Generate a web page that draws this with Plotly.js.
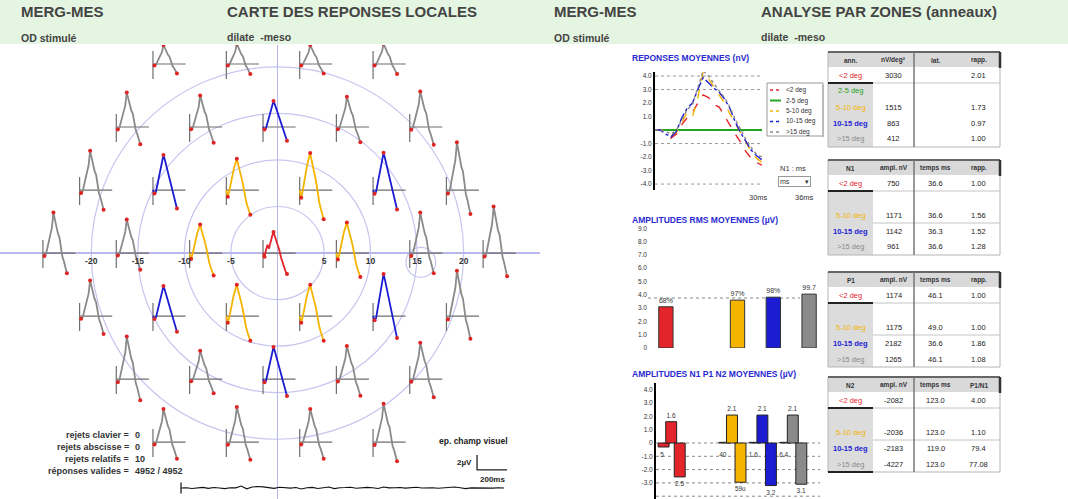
<!DOCTYPE html>
<html><head><meta charset="utf-8">
<script src="https://cdn.plot.ly/plotly-3.0.1.min.js"></script>
<style>html,body{margin:0;padding:0;background:#fff}#chart{width:1068px;height:499px}</style>
</head><body><div id="chart"></div>
<script>
// ================= DATA =================
const zoneNames  = ['<2 deg','2-5 deg','5-10 deg','10-15 deg','>15 deg'];
const zoneColors = ['#e3242b','#22a622','#f4b400','#1c1cd2','#8a8a8a'];
const zoneEdges  = [2,5,10,15];          // eccentricity limits of the rings (deg)
const mapRings   = [5,10,15,20];         // circles drawn on the map (deg)
const mapTicks   = [-20,-15,-10,-5,5,10,15,20];
const blindSpotX = [15.4], blindSpotY = [-1.0], blindSpotR = [1.6];

// 37-hexagon stimulus: half-pitch column index and row index (row grows downward)
const cellCol = [-3,-1,1,3, -4,-2,0,2,4, -5,-3,-1,1,3,5, -6,-4,-2,0,2,4,6, -5,-3,-1,1,3,5, -4,-2,0,2,4, -3,-1,1,3];
const cellRow = [-3,-3,-3,-3, -2,-2,-2,-2,-2, -1,-1,-1,-1,-1,-1, 0,0,0,0,0,0,0, 1,1,1,1,1,1, 2,2,2,2,2, 3,3,3,3];
// relative amplitude of each local response
const cellGain = [0.47,0.5,0.47,0.5, 0.85,0.78,0.87,0.75,0.88, 0.97,1.17,1.1,1.3,1.24,1.18,
                  1.0,0.83,1.0,1.0,1.07,1.0,1.15, 0.88,1.0,1.1,1.1,1.4,1.12, 1.05,0.7,1.07,0.82,0.9,
                  0.82,0.87,0.82,0.95];
// local response waveforms (µV) vs time (ms)
const mapTimes   = [0,10,20,30,40,50,60,70,80,90,100,110,120,130,140,150,160];
const waveCenter = [0,-0.5,0.4,1.1,0.6,1.6,2.2,2.8,2.2,1.6,0.9,0.3,-0.6,-1.3,-1.9,-2.4,-2.8];
const wave5to10  = [0,-0.8,-0.1,0.9,1.8,2.6,3.2,3.8,3.0,2.4,1.6,0.8,-0.3,-1.2,-1.9,-2.5,-3.0];
const wave10to15 = [0,-0.4,-0.2,0.6,1.5,2.6,3.3,4.0,3.4,2.7,2.1,1.3,0.4,-0.3,-0.9,-1.5,-2.1];
const waveOver15 = [0,-0.4,-0.2,0.8,1.4,2.9,3.4,5.4,4.3,3.7,2.6,2.1,0.7,-0.5,-1.1,-2.0,-2.7];
const scaleBarUV = 2, scaleBarMs = 200;

// noise trace below the map
const noiseValues = [0,0.2,-0.3,0.1,0.4,-0.2,0.3,0.0,-0.4,0.2,0.1,1.2,-0.5,0.6,0.9,0.7,0.3,-0.2,0.5,0.1,
                     -0.1,0.3,-0.6,0.2,0.4,-0.3,0.1,0.6,-0.4,0.2,0.3,0.5,-0.2,0.1,0.4,0.2,-0.3,0.6,0.1,0.2,
                     0.3,-0.1,0.4,0.5,0.0,0.3,0.2,-0.2,0.1,0.4,0.6,0.2,-0.4,0.1,0.0,0.2,0.1,-0.1,0.2,0.0];

const statLabels = ['rejets clavier','rejets abscisse','rejets relatifs','réponses valides'];
const statValues = ['0','0','10','4952 / 4952'];

// mean responses per ring
const meanTimes  = [0,5,10,15,20,25,30,35,40,45,50,55,60,65,70,75,80,85,90,95,100];
const meanRed    = [0,0,-0.2,-0.6,-0.3,0.4,0.9,1.3,2.0,2.6,2.4,1.9,1.7,1.0,0.4,-0.3,-0.9,-1.6,-2.1,-2.4,-2.6];
const meanGreen  = [0,0,0,0,0,0,0,0,0,0,0,0,0,0,0,0,0,0,0,0,0];
const meanOrange = [0,0,-0.1,-0.4,-0.2,0.6,1.3,1.0,2.4,4.3,3.8,3.2,2.6,2.0,1.2,0.5,-0.3,-1.0,-1.6,-2.1,-2.4];
const meanBlue   = [0,0,-0.3,-0.5,-0.1,0.9,1.6,2.0,3.0,3.9,3.5,3.1,2.8,2.3,1.6,0.6,-0.2,-0.9,-1.5,-1.9,-2.2];
const meanGray   = [0,0,-0.1,-0.3,0.0,0.8,1.5,1.9,3.1,4.4,4.0,3.4,2.9,2.4,1.7,0.8,0.0,-0.7,-1.3,-1.8,-2.0];
const meanTickVals = [-4,-3,-2,-1,1,2,3,4];
const meanTickText = ['-4.0','-3.0','-2.0','-1.0','1.0','2.0','3.0','4.0'];
const meanGrid = [4,3,-1,-4];

// RMS amplitudes
const rmsAmp    = [3.1,null,3.6,3.82,4.05];
const rmsLabels = ['68%','','97%','98%','99.7'];
const rmsRef    = [3.76];
const rmsTickVals = [0,1,2,3,4,5,6,7,8,9];
const rmsTickText = ['0','1.0','2.0','3.0','4.0','5.0','6.0','7.0','8.0','9.0'];

// N1 / P1 / N2 amplitudes
const ampN1 = [-0.3,null,0.05,0.05,0.05];
const ampP1 = [1.6,null,2.1,2.1,2.1];
const ampN2 = [-2.55,null,-2.95,-3.2,-3.1];
const n1Labels = ['5','','40','1.6','6.4'];
const p1Labels = ['1.6','','2.1','2.1','2.1'];
const n2Labels = ['2.5','','59u','3.2','3.1'];
const ampTickVals = [-4,-3,-2,-1,0,1,2,3,4];
const ampTickText = ['-4.0','-3.0','-2.0','-1.0','0','1.0','2.0','3.0','4.0'];
const ampGrid = [0,-1,-2,-3,-4];

// tables
const tabRowLabels1 = ['<2 deg','2-5 deg','5-10 deg','10-15 deg','>15 deg'];
const tabRowLabels  = ['<2 deg','','5-10 deg','10-15 deg','>15 deg'];
const tab1Head = ['ann.','nV/deg²','lat.','rapp.'];
const tab1Ampl = ['3030','','1515','863','412'];
const tab1Lat  = ['','','','',''];
const tab1Rat  = ['2.01','','1.73','0.97','1.00'];
const tab2Head = ['N1','ampl. nV','temps ms','rapp.'];
const tab2Ampl = ['750','','1171','1142','961'];
const tab2Time = ['36.6','','36.6','36.3','36.6'];
const tab2Rat  = ['1.00','','1.56','1.52','1.28'];
const tab3Head = ['P1','ampl. nV','temps ms','rapp.'];
const tab3Ampl = ['1174','','1175','2182','1265'];
const tab3Time = ['46.1','','49.0','36.6','46.1'];
const tab3Rat  = ['1.00','','1.00','1.86','1.08'];
const tab4Head = ['N2','ampl. nV','temps ms','P1/N1'];
const tab4Ampl = ['-2082','','-2036','-2183','-4227'];
const tab4Time = ['123.0','','123.0','119.0','123.0'];
const tab4Rat  = ['4.00','','1.10','79.4','77.08'];

// ================= LAYOUT HELPERS =================
const W = 1068, H = 499;
const FONT = 'Liberation Sans, Arial, sans-serif';
const px = x => x / W, py = y => 1 - y / H;
const safe = s => String(s).replace(/</g, '&lt;').replace(/>/g, '&gt;');

// map geometry
const HALF_PITCH = 3.94, ROW_PITCH = 6.77;
const ORIGIN_DX = -1.55, BAR_UP = 1.4, BAR_DOWN = 1.6, BASE_LEN = 3.5;
const MS_TO_DEG = 3.22 / 200, UV_TO_DEG = 1.61 / 2;

function zoneOf(e){ let i = 0; while (i < zoneEdges.length && e >= zoneEdges[i]) i++; return i; }
const waveByZone = [waveCenter, null, wave5to10, wave10to15, waveOver15];

const traces = [];
const shapes = [];
const annotations = [];
const pRect = (x0, y0, x1, y1, fill, line) => shapes.push({type:'rect', xref:'paper', yref:'paper',
  x0:px(x0), x1:px(x1), y0:py(y1), y1:py(y0), fillcolor:fill || 'rgba(0,0,0,0)', line:line || {width:0}});
const pLine = (x0, y0, x1, y1, color, width) => shapes.push({type:'line', xref:'paper', yref:'paper',
  x0:px(x0), x1:px(x1), y0:py(y0), y1:py(y1), line:{color, width}});
const pText = (x, y, text, size, color, anchor, bold) => annotations.push({xref:'paper', yref:'paper', x:px(x), y:py(y),
  text: bold ? '<b>' + text + '</b>' : text, showarrow:false, xanchor:anchor || 'center', yanchor:'middle',
  font:{family:FONT, size, color}});

// ---- map ----
const zX = zoneNames.map(() => []), zY = zoneNames.map(() => []);
const frX = [], frY = [], dotX = [], dotY = [];
for (let i = 0; i < cellCol.length; i++) {
  const cx = cellCol[i] * HALF_PITCH, cy = -cellRow[i] * ROW_PITCH;
  const z = zoneOf(Math.hypot(cx, cy));
  const wave = waveByZone[z];
  const ox = cx + ORIGIN_DX, oy = cy;
  frX.push(ox, ox, null, ox, ox + BASE_LEN, null);
  frY.push(oy + BAR_UP, oy - BAR_DOWN, null, oy, oy, null);
  const xs = mapTimes.map(t => ox + t * MS_TO_DEG);
  const ys = wave.map(v => oy + v * cellGain[i] * UV_TO_DEG);
  zX[z].push(...xs, null); zY[z].push(...ys, null);
  let n1 = 1; for (let k = 1; k < 4; k++) if (wave[k] < wave[n1]) n1 = k;
  let p1 = 0; wave.forEach((v, k) => { if (v > wave[p1]) p1 = k; });
  [n1, p1, wave.length - 1].forEach(k => { dotX.push(xs[k]); dotY.push(ys[k]); });
}
traces.push({type:'scatter', mode:'lines', x:frX, y:frY, xaxis:'x', yaxis:'y',
  line:{color:'#6e6e6e', width:1.2}, hoverinfo:'skip', showlegend:false});
zoneNames.forEach((n, z) => {
  if (!zX[z].length) return;
  traces.push({type:'scatter', mode:'lines', x:zX[z], y:zY[z], xaxis:'x', yaxis:'y',
    line:{color:zoneColors[z], width:1.8}, name:n, showlegend:false});
});
traces.push({type:'scatter', mode:'markers', x:dotX, y:dotY, xaxis:'x', yaxis:'y',
  marker:{color:'#e02424', size:4}, hoverinfo:'skip', showlegend:false});
traces.push({type:'scatter', mode:'text', x:mapTicks, y:mapTicks.map(() => -0.45), xaxis:'x', yaxis:'y',
  text:mapTicks.map(t => '<b>' + t + '</b>'), textposition:'bottom center',
  textfont:{family:FONT, size:8.5, color:'#333'}, hoverinfo:'skip', showlegend:false});
// scale bar
const sbx = 21.44, sby = -23.3;
traces.push({type:'scatter', mode:'lines',
  x:[sbx, sbx, sbx + scaleBarMs * MS_TO_DEG], y:[sby + scaleBarUV * UV_TO_DEG, sby, sby],
  xaxis:'x', yaxis:'y', line:{color:'#222', width:1.3}, hoverinfo:'skip', showlegend:false});
annotations.push({xref:'x', yref:'y', x:sbx - 0.3, y:sby + 0.8, text:'<b>' + scaleBarUV + 'µV</b>', showarrow:false,
  xanchor:'right', yanchor:'middle', font:{family:FONT, size:8, color:'#222'}});
annotations.push({xref:'x', yref:'y', x:sbx + scaleBarMs * MS_TO_DEG, y:sby - 0.3, text:'<b>' + scaleBarMs + 'ms</b>', showarrow:false,
  xanchor:'right', yanchor:'top', font:{family:FONT, size:8, color:'#222'}});
pText(510, 441, 'ep. champ visuel', 8.5, '#222', 'right', true);
// rings
mapRings.forEach(r => shapes.push({type:'circle', xref:'x', yref:'y', x0:-r, x1:r, y0:-r, y1:r,
  line:{color:'#c6c6f0', width:1.2}, layer:'below'}));
blindSpotX.forEach((bx, i) => shapes.push({type:'circle', xref:'x', yref:'y',
  x0:bx - blindSpotR[i], x1:bx + blindSpotR[i], y0:blindSpotY[i] - blindSpotR[i], y1:blindSpotY[i] + blindSpotR[i],
  line:{color:'#c6c6f0', width:1.2}, layer:'below'}));
// stats text
statLabels.forEach((l, i) => {
  pText(131, 435 + i * 12, l + ' =', 9, '#333', 'right', true);
  pText(133, 435 + i * 12, statValues[i], 9, '#333', 'left', true);
});
// noise trace
traces.push({type:'scatter', mode:'lines', x:noiseValues.map((v, i) => i), y:noiseValues, xaxis:'x2', yaxis:'y2',
  line:{color:'#111', width:1.1}, hoverinfo:'skip', showlegend:false});
shapes.push({type:'line', xref:'x2 domain', yref:'y2', x0:0, x1:0, y0:-3.5, y1:3.5, line:{color:'#111', width:1.2}});

// ---- chart A : mean responses ----
const meanSeries = [meanRed, meanGreen, meanOrange, meanBlue, meanGray];
const meanDash = ['dash','solid','dash','dashdot','dot'];
meanSeries.forEach((s, z) => traces.push({type:'scatter', mode:'lines', x:meanTimes, y:s, xaxis:'x3', yaxis:'y3',
  name:zoneNames[z], line:{color:zoneColors[z], width: z === 1 ? 2 : 1.4, dash:meanDash[z]}, showlegend:false}));
meanGrid.forEach(g => shapes.push({type:'line', xref:'x3 domain', yref:'y3', x0:0, x1:1, y0:g, y1:g,
  line:{color:'#999', width:1, dash:'dot'}, layer:'below'}));
// legend box (drawn from zoneNames / zoneColors)
pRect(767, 83, 823, 136, '#fff', {color:'#999', width:1});
pLine(823, 85, 823, 137, '#bbb', 2);
zoneNames.forEach((n, z) => {
  const yy = 90 + z * 10.5;
  shapes.push({type:'line', xref:'paper', yref:'paper', x0:px(770), x1:px(781), y0:py(yy), y1:py(yy),
    line:{color:zoneColors[z], width: z === 1 ? 2 : 1.4, dash: z === 1 ? 'solid' : 'dot'}});
  pText(784, yy, safe(n), 6.5, '#333', 'left');
});
pText(630, 58, 'REPONSES MOYENNES (nV)', 8.5, '#2a2ad2', 'left', true);
pText(778, 168, 'N1 : ms', 7.5, '#333', 'left');
annotations.push({xref:'paper', yref:'paper', x:px(778), y:py(182), text:'ms        ▾', showarrow:false,
  xanchor:'left', yanchor:'middle', font:{family:FONT, size:7, color:'#333'}, bordercolor:'#999', borderwidth:1, borderpad:1});
pText(758, 198, '30ms', 7.5, '#333');
pText(804, 198, '36ms', 7.5, '#333');

// ---- chart B : RMS amplitudes ----
traces.push({type:'bar', x:zoneNames, y:rmsAmp, xaxis:'x4', yaxis:'y4', width:0.4,
  marker:{color:zoneColors, line:{color:'#333', width:1}}, text:rmsLabels, textposition:'outside',
  textfont:{family:FONT, size:7, color:'#333'}, cliponaxis:false, showlegend:false});
rmsRef.forEach(r => shapes.push({type:'line', xref:'x4 domain', yref:'y4', x0:0, x1:0.85, y0:r, y1:r,
  line:{color:'#888', width:1.2, dash:'dot'}, layer:'below'}));
pText(630, 220, 'AMPLITUDES RMS MOYENNES (µV)', 8.5, '#2a2ad2', 'left', true);

// ---- chart C : N1 P1 N2 ----
const zoneIdx = zoneNames.map((n, i) => i);
[[ampN1, -0.43, null], [ampP1, -0.18, p1Labels], [ampN2, 0.1, n2Labels]].forEach(([vals, off, lab]) => {
  traces.push({type:'bar', x:zoneIdx, y:vals, xaxis:'x5', yaxis:'y5', width:0.36, offset:off,
    marker:{color:zoneColors, line:{color:'#222', width:1}}, text:lab || undefined,
    textposition: lab ? 'outside' : 'none', textfont:{family:FONT, size:6.5, color:'#333'},
    cliponaxis:false, showlegend:false});
});
traces.push({type:'scatter', mode:'text', x:zoneIdx.map(i => i - 0.3), y:ampN1.map(() => -0.9), xaxis:'x5', yaxis:'y5',
  text:n1Labels, textfont:{family:FONT, size:6.5, color:'#333'}, hoverinfo:'skip', showlegend:false, cliponaxis:false});
ampGrid.forEach(g => shapes.push({type:'line', xref:'x5 domain', yref:'y5', x0:0, x1:1.08, y0:g, y1:g,
  line:{color:'#888', width:1, dash:'dot'}, layer:'below'}));
pText(630, 374, 'AMPLITUDES N1 P1 N2 MOYENNES (µV)', 8.5, '#2a2ad2', 'left', true);

// ---- tables (cells drawn from the table arrays) ----
const tables = [
  [tab1Head, tabRowLabels1, tab1Ampl, tab1Lat, tab1Rat],
  [tab2Head, tabRowLabels, tab2Ampl, tab2Time, tab2Rat],
  [tab3Head, tabRowLabels, tab3Ampl, tab3Time, tab3Rat],
  [tab4Head, tabRowLabels, tab4Ampl, tab4Time, tab4Rat]
];
const tableTops = [52, 160, 272, 377];
const COLX = [828, 873, 914, 957, 1000];
const HEAD_H = 15, ROW_H = 16;
tables.forEach(([head, labels, c1, c2, c3], k) => {
  const T = tableTops[k], B = T + HEAD_H + ROW_H * labels.length;
  const cols = [labels, c1, c2, c3];
  pRect(COLX[0], T, COLX[4], T + HEAD_H, '#d9d9d9');
  pRect(COLX[0], T + HEAD_H + ROW_H, COLX[1], B, '#dcdcdc');
  pRect(COLX[0], T, COLX[4], B, null, {color:'#b5b5b5', width:1});
  pLine(COLX[0], T + HEAD_H + ROW_H, COLX[4], T + HEAD_H + ROW_H, '#c4c4c4', 1);
  if (k > 0) pLine(COLX[1], T + HEAD_H + ROW_H * 3, COLX[4], T + HEAD_H + ROW_H * 3, '#c4c4c4', 1);
  pLine(COLX[0], T, COLX[4], T, '#666', 2);
  pLine(COLX[4], T, COLX[4], T + HEAD_H + 1, '#333', 2.5);
  pLine(COLX[2], T, COLX[2], B, '#777', 1.5);
  pLine(COLX[0], T + HEAD_H + ROW_H, COLX[1], T + HEAD_H + ROW_H, '#222', 2);
  if (k === 3) pLine(COLX[0], B, COLX[1], B, '#222', 2);
  head.forEach((h, c) => pText((COLX[c] + COLX[c + 1]) / 2, T + HEAD_H / 2 + 0.5, safe(h), 6.5, '#333', 'center', true));
  cols.forEach((col, c) => col.forEach((v, r) => {
    if (v === '') return;
    pText((COLX[c] + COLX[c + 1]) / 2, T + HEAD_H + ROW_H * r + ROW_H / 2, safe(v), 7.5,
      c === 0 ? zoneColors[r] : '#222', 'center', c === 0 && r === 3);
  }));
});

// ---- header band ----
shapes.push({type:'rect', xref:'paper', yref:'paper', x0:0, x1:1, y0:py(44), y1:1, fillcolor:'#e4f5e1', line:{width:0}, layer:'below'});
[[19,'MERG-MES',15,11],[225,'CARTE DES REPONSES LOCALES',15,11],[19,'OD stimulé',10.5,38],[225,'dilate  -meso',10.5,37],
 [552,'MERG-MES',15,11],[759,'ANALYSE PAR ZONES (anneaux)',15,11],[552,'OD stimulé',10.5,38],[759,'dilate  -meso',10.5,37]]
 .forEach(([x, t, s, y]) => pText(x, y, t, s, '#444', 'left', true));

// ================= LAYOUT =================
const noAxis = {showgrid:false, zeroline:false, showticklabels:false, ticks:'', showline:false, fixedrange:true};
const layout = {
  width:W, height:H, margin:{l:0, r:0, t:0, b:0}, paper_bgcolor:'#fff', plot_bgcolor:'rgba(0,0,0,0)',
  font:{family:FONT, color:'#333'}, barmode:'overlay', hovermode:false, showlegend:false,
  xaxis:{...noAxis, domain:[0, px(540)], range:[-29.8, 28.2], zeroline:true, zerolinecolor:'#b8b8ee', zerolinewidth:1.2},
  yaxis:{...noAxis, domain:[0, py(45)], range:[-26.42, 22.35], zeroline:true, zerolinecolor:'#b8b8ee', zerolinewidth:1.2},
  xaxis2:{...noAxis, domain:[px(181), px(504)], range:[0, 59], anchor:'y2'},
  yaxis2:{...noAxis, domain:[py(496), py(480)], range:[-5, 5], anchor:'x2'},
  xaxis3:{...noAxis, domain:[px(655), px(762)], range:[0, 100], anchor:'y3'},
  yaxis3:{...noAxis, domain:[py(190), py(72)], range:[-4.44, 4.3], anchor:'x3', showline:true, linecolor:'#000', linewidth:2,
    showticklabels:true, tickvals:meanTickVals, ticktext:meanTickText, tickfont:{size:6.5, color:'#333'}},
  xaxis4:{...noAxis, domain:[px(648), px(827)], type:'category', anchor:'y4'},
  yaxis4:{...noAxis, domain:[py(348), py(226)], range:[0, 9.17], anchor:'x4',
    showticklabels:true, tickvals:rmsTickVals, ticktext:rmsTickText, tickfont:{size:6.5, color:'#333'}},
  xaxis5:{...noAxis, domain:[px(656), px(808)], range:[-0.5, 4.5], anchor:'y5'},
  yaxis5:{...noAxis, domain:[0, py(383)], range:[-4.21, 4.51], anchor:'x5', showline:true, linecolor:'#000', linewidth:2,
    showticklabels:true, tickvals:ampTickVals, ticktext:ampTickText, tickfont:{size:6.5, color:'#333'}},
  shapes, annotations
};
Plotly.newPlot('chart', traces, layout, {staticPlot:true, displayModeBar:false});
</script></body></html>
